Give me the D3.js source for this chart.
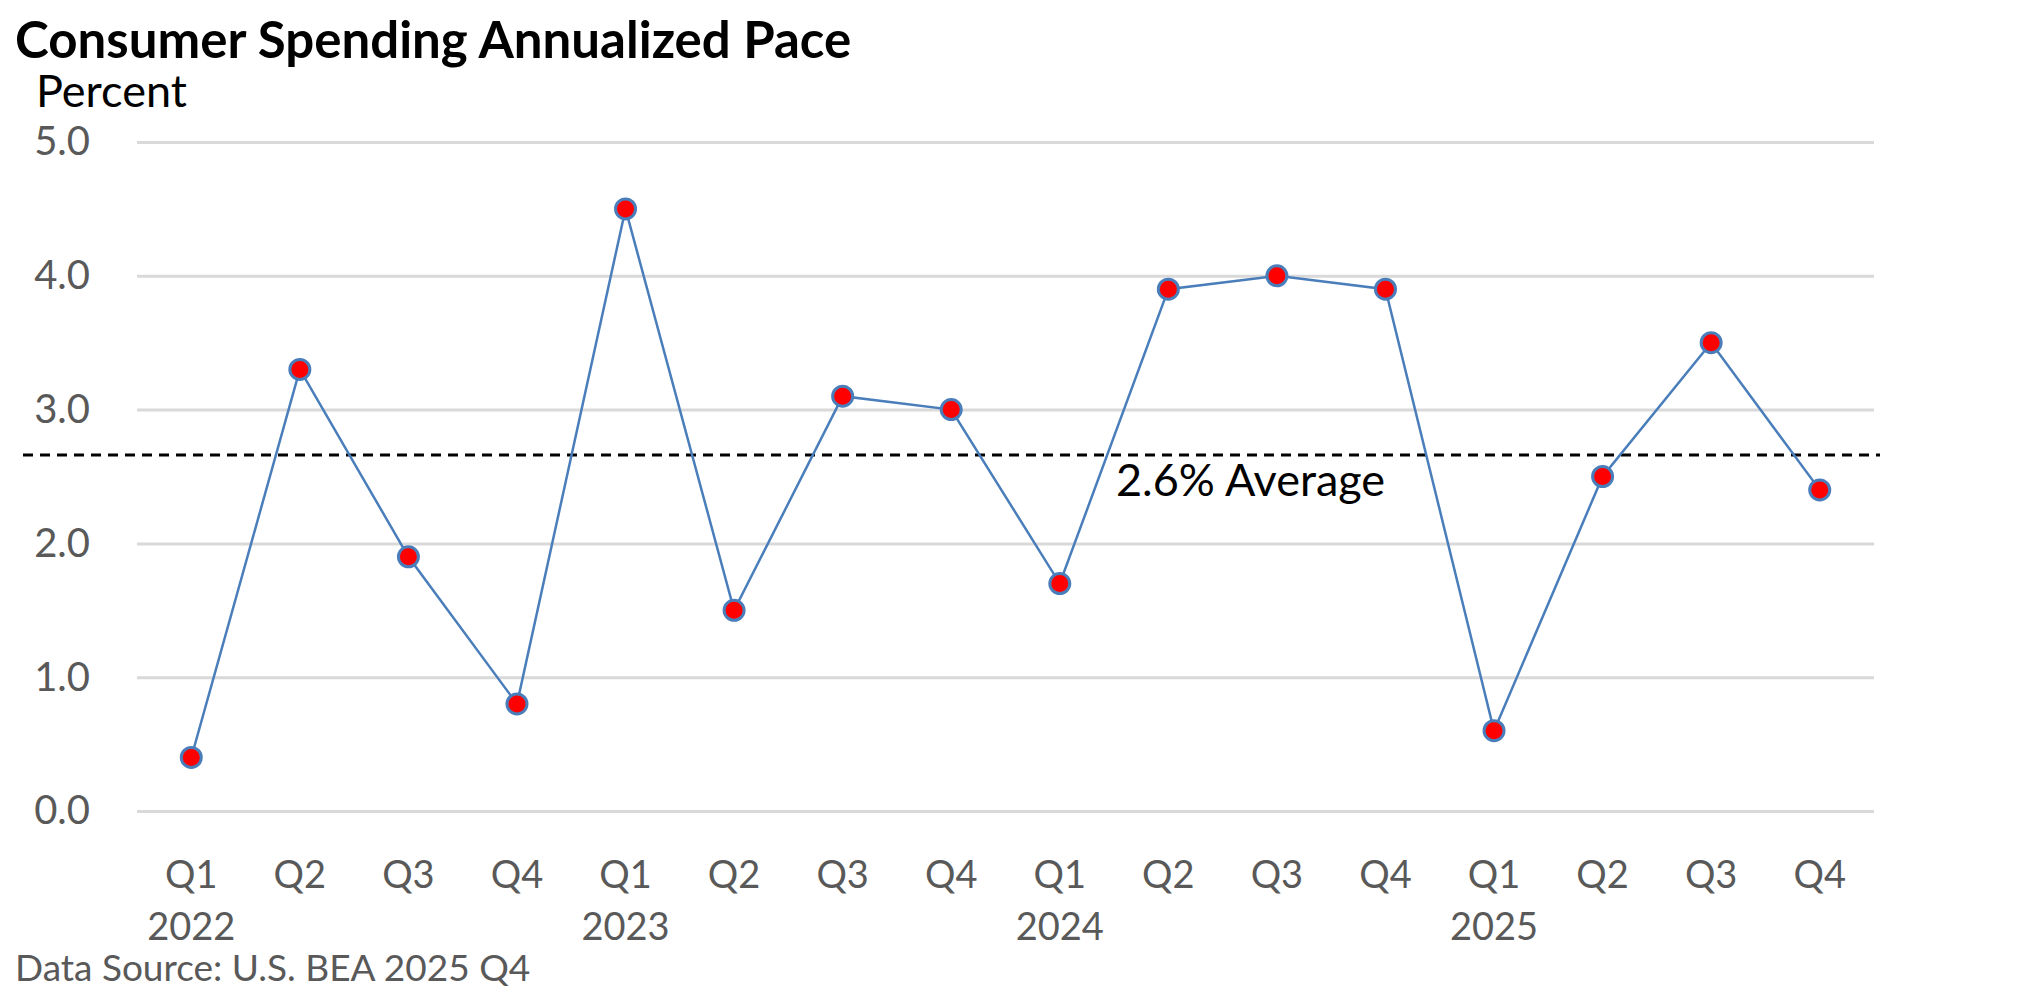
<!DOCTYPE html>
<meta charset="utf-8">
<style>
html, body { margin: 0; overflow: hidden; background: #fff; }
text { font-family: Lato, "Open Sans", sans-serif; }
</style>
<body>
<script src="https://d3js.org/d3.v7.min.js"></script>
<script>

var width = 2020,
  height = 998;

// data
var quarters = ["Q1", "Q2", "Q3", "Q4", "Q1", "Q2", "Q3", "Q4",
                "Q1", "Q2", "Q3", "Q4", "Q1", "Q2", "Q3", "Q4"];
var years = ["2022", "", "", "", "2023", "", "", "",
             "2024", "", "", "", "2025", "", "", ""];
var values = [0.4, 3.3, 1.9, 0.8, 4.5, 1.5, 3.1, 3.0,
              1.7, 3.9, 4.0, 3.9, 0.6, 2.5, 3.5, 2.4];
var yTicks = [0, 1, 2, 3, 4, 5];
var average = 2.66;
var averageLabel = "2.6% Average";

var plotLeft = 137, plotRight = 1874, plotTop = 142, plotBottom = 811;

var svg = d3.select("body").append("svg")
  .attr("width", width)
  .attr("height", height);

var x = d3.scaleBand()
  .domain(d3.range(values.length))
  .range([plotLeft, plotRight]);

var y = d3.scaleLinear()
  .domain([0, 5])
  .range([plotBottom, plotTop]);

// gridlines + y labels
var yAxis = svg.append("g")
  .attr("transform", "translate(" + plotLeft + ",0)")
  .call(d3.axisLeft(y)
    .tickValues(yTicks)
    .tickSize(-(plotRight - plotLeft))
    .tickPadding(47)
    .tickFormat(d3.format(".1f")));
yAxis.select(".domain").remove();
yAxis.selectAll("line").attr("stroke", "#d9d9d9").attr("stroke-width", 3);
yAxis.selectAll("text")
  .attr("fill", "#595959")
  .style("font-size", "40px");

// x labels
var xAxis = svg.append("g")
  .attr("transform", "translate(0," + plotBottom + ")")
  .call(d3.axisBottom(x).tickSize(0).tickFormat(function(i) { return quarters[i]; }));
xAxis.select(".domain").remove();
xAxis.selectAll("text")
  .attr("fill", "#595959")
  .attr("y", 0)
  .attr("dy", 77)
  .style("font-size", "38px");
xAxis.selectAll(".tick").append("text")
  .attr("fill", "#595959")
  .attr("text-anchor", "middle")
  .attr("dy", 129)
  .style("font-size", "38px")
  .text(function(i) { return years[i]; });

// average line
svg.append("line")
  .attr("x1", 23)
  .attr("x2", 1880)
  .attr("y1", y(average))
  .attr("y2", y(average))
  .attr("stroke", "#000")
  .attr("stroke-width", 3)
  .attr("stroke-dasharray", "10,7");

svg.append("text")
  .attr("x", 1116)
  .attr("y", y(average) + 41)
  .style("font-size", "45px")
  .attr("fill", "#000")
  .text(averageLabel);

// series
var line = d3.line()
  .x(function(d, i) { return x(i) + x.bandwidth() / 2; })
  .y(function(d) { return y(d); });

svg.append("path")
  .datum(values)
  .attr("d", line)
  .attr("fill", "none")
  .attr("stroke", "#4a7ebb")
  .attr("stroke-width", 2.5);

svg.selectAll(".dot")
  .data(values)
  .enter().append("circle")
  .attr("class", "dot")
  .attr("cx", function(d, i) { return x(i) + x.bandwidth() / 2; })
  .attr("cy", function(d) { return y(d); })
  .attr("r", 10)
  .attr("fill", "#ff0000")
  .attr("stroke", "#4a7ebb")
  .attr("stroke-width", 3);

// titles
svg.append("text")
  .attr("x", 15)
  .attr("y", 58)
  .style("font-size", "51px")
  .style("font-weight", "bold")
  .attr("fill", "#000")
  .text("Consumer Spending Annualized Pace");

svg.append("text")
  .attr("x", 36)
  .attr("y", 107)
  .style("font-size", "45px")
  .attr("fill", "#000")
  .text("Percent");

svg.append("text")
  .attr("x", 15)
  .attr("y", 981)
  .style("font-size", "37px")
  .attr("fill", "#595959")
  .text("Data Source: U.S. BEA 2025 Q4");

</script>
